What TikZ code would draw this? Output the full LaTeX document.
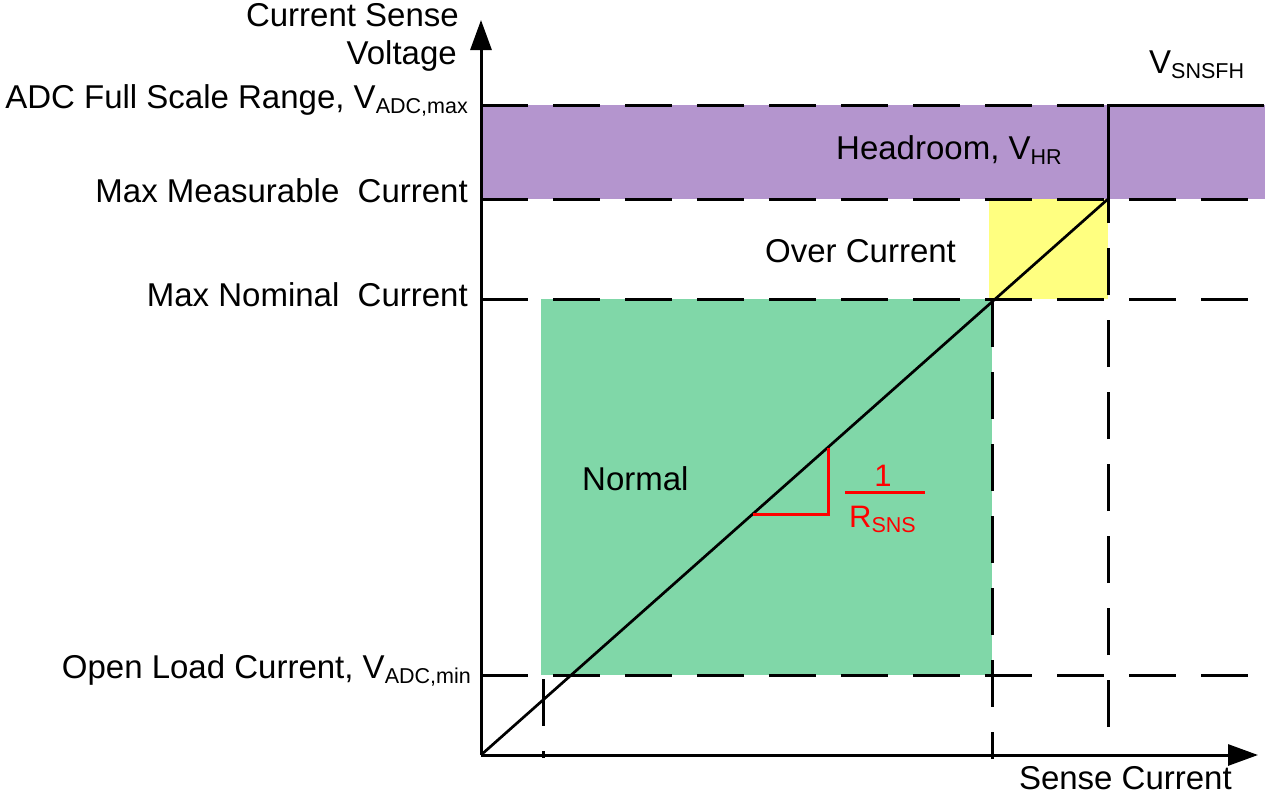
\documentclass[tikz,border=0pt]{standalone}
\usepackage{fontspec}
\setmainfont{Liberation Sans}
\usetikzlibrary{arrows.meta}
\definecolor{purp}{RGB}{180,149,206}
\definecolor{grn}{RGB}{128,215,168}
\definecolor{yel}{RGB}{255,255,128}
\newcommand\mysub[1]{\raisebox{-5pt}{\fontsize{21.5}{21.5}\selectfont #1}}
\begin{document}
\begin{tikzpicture}[x=1pt,y=-1pt,
  lbl/.style={inner sep=0pt, font=\fontsize{33}{39}\selectfont},
  dsh/.style={line width=3pt, dash pattern=on 47pt off 25pt},
  axisline/.style={line width=3pt, -{Triangle[length=30pt,width=21pt]}},
  solidline/.style={line width=3pt},
  diag/.style={line width=2.7pt},
  redline/.style={red, line width=3pt, line join=miter}]
\useasboundingbox (0,0) rectangle (1267,795);
% key coordinates
\coordinate (O) at (481,755);
\coordinate (ytip) at (481,20);
\coordinate (xtip) at (1258,755);
\coordinate (P) at (1108,199);
% regions
\fill[purp] (481,105) rectangle (1265,199);
\fill[yel] (989,199) rectangle (1108,299);
\fill[grn] (541,299) rectangle (992,675);
% horizontal dashed levels
\draw[dsh] (481,105) -- (1265,105);
\draw[dsh] (481,199) -- (1265,199);
\draw[dsh] (481,299) -- (1265,299);
\draw[dsh] (481,675) -- (1265,675);
% vertical dashed lines
\draw[dsh] (543,679) -- (543,758);
\draw[dsh] (992,300) -- (992,759);
\draw[dsh] (1108,727) -- (1108,199);
% V_SNSFH step
\draw[solidline] (P) -- (1108,105) -- (1264,105);
% transfer line
\draw[diag] (O) -- (P);
% slope triangle
\draw[redline] (753,514) -- (828,514) -- (828,448);
\node[lbl, text=red, font=\fontsize{31}{36}\selectfont, anchor=base] (one) at (883,486) {1};
\draw[red, line width=3pt] (845,492) -- (925,492);
\node[lbl, text=red, font=\fontsize{31}{36}\selectfont, anchor=base west] (rsns) at (849,527) {R\mysub{SNS}};
% axes
\draw[axisline] (O) -- (ytip);
\draw[axisline] (O) -- (xtip);
% labels
\node[lbl, anchor=base east] (cs) at (459,27) {Current Sense};
\node[lbl, anchor=base east] (volt) at (457,64) {Voltage};
\node[lbl, anchor=base east] (lmax) at (468,108) {ADC Full Scale Range, V\mysub{ADC,max}};
\node[lbl, anchor=base east] (lmeas) at (468,202) {Max Measurable~~Current};
\node[lbl, anchor=base east] (lnom) at (468,306) {Max Nominal~~Current};
\node[lbl, anchor=base east] (lmin) at (471,678) {Open Load Current, V\mysub{ADC,min}};
\node[lbl, anchor=base west] (hr) at (836,159) {Headroom, V\mysub{HR}};
\node[lbl, anchor=base west] (oc) at (765,262) {Over Current};
\node[lbl, anchor=base west] (nrm) at (582,490) {Normal};
\node[lbl, anchor=base west] (vs) at (1149,73) {V\mysub{SNSFH}};
\node[lbl, anchor=base east] (sc) at (1232,789) {Sense Current};
\end{tikzpicture}
\end{document}
